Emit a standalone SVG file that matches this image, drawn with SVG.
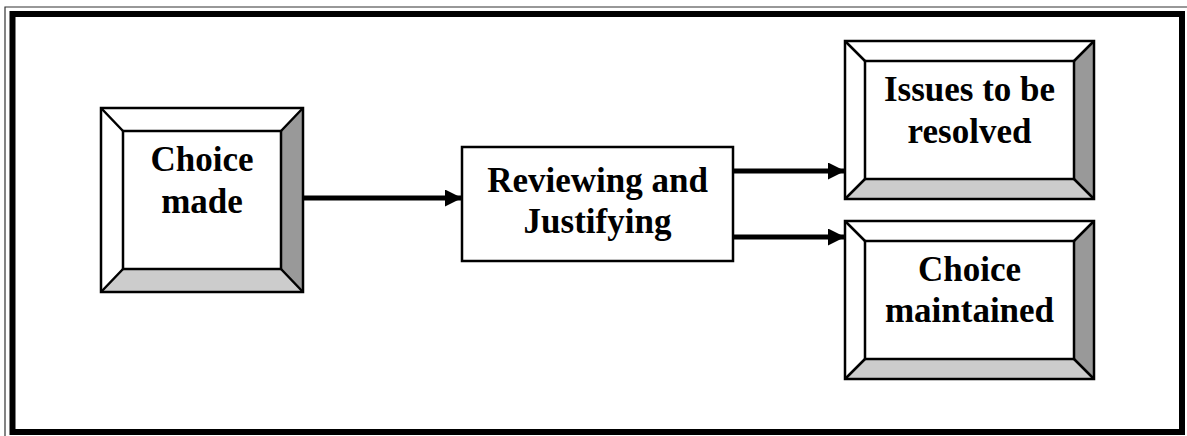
<svg xmlns="http://www.w3.org/2000/svg" width="1187" height="436" viewBox="0 0 1187 436">
<style>
.lbl{font-family:"Liberation Serif","Times New Roman",serif;font-weight:bold;font-size:35px;text-anchor:middle;fill:#000}
.edge{stroke:#000;stroke-width:2.5;stroke-linejoin:miter}
.face{fill:#fff}
.dark{fill:#999999}
.light{fill:#cccccc}
.conn{stroke:#000;stroke-width:5;fill:none}
</style>
<defs>
<marker id="ah" markerUnits="userSpaceOnUse" markerWidth="18" markerHeight="18" refX="17" refY="8.5" orient="auto">
<path d="M0,0 L17,8.5 L0,17 Z" fill="#000"/>
</marker>
</defs>
<rect x="0" y="0" width="1187" height="436" fill="#fff"/>
<g id="frame">
<path d="M5,436 V7 H1187" fill="none" stroke="#333" stroke-width="1.2"/>
<rect x="12.5" y="14" width="1169.5" height="418" fill="none" stroke="#000" stroke-width="6"/>
</g>
<g id="node-choice-made">
<rect x="101" y="108" width="202" height="184" class="face"/>
<polygon points="303,108 303,292 281,269 281,131" class="dark"/>
<polygon points="101,292 303,292 281,269 123,269" class="light"/>
<rect x="101" y="108" width="202" height="184" fill="none" class="edge"/>
<rect x="123" y="131" width="158" height="138" fill="none" class="edge"/>
<path d="M101,108 L123,131 M303,108 L281,131 M101,292 L123,269 M303,292 L281,269" class="edge"/>
<text class="lbl" x="202" y="171">Choice</text>
<text class="lbl" x="202" y="213">made</text>
</g>
<g id="node-reviewing">
<rect x="462" y="147" width="271" height="114" fill="#fff" class="edge"/>
<text class="lbl" x="597.5" y="192">Reviewing and</text>
<text class="lbl" x="597.5" y="233">Justifying</text>
</g>
<g id="node-issues">
<rect x="845" y="41" width="249" height="158" class="face"/>
<polygon points="1094,41 1094,199 1074,179 1074,61" class="dark"/>
<polygon points="845,199 1094,199 1074,179 865,179" class="light"/>
<rect x="845" y="41" width="249" height="158" fill="none" class="edge"/>
<rect x="865" y="61" width="209" height="118" fill="none" class="edge"/>
<path d="M845,41 L865,61 M1094,41 L1074,61 M845,199 L865,179 M1094,199 L1074,179" class="edge"/>
<text class="lbl" x="969.5" y="101">Issues to be</text>
<text class="lbl" x="969.5" y="143">resolved</text>
</g>
<g id="node-choice-maintained">
<rect x="845" y="221" width="249" height="158" class="face"/>
<polygon points="1094,221 1094,379 1074,359 1074,241" class="dark"/>
<polygon points="845,379 1094,379 1074,359 865,359" class="light"/>
<rect x="845" y="221" width="249" height="158" fill="none" class="edge"/>
<rect x="865" y="241" width="209" height="118" fill="none" class="edge"/>
<path d="M845,221 L865,241 M1094,221 L1074,241 M845,379 L865,359 M1094,379 L1074,359" class="edge"/>
<text class="lbl" x="969.5" y="281">Choice</text>
<text class="lbl" x="969.5" y="322">maintained</text>
</g>
<g id="connectors">
<line x1="304" y1="198" x2="462" y2="198" class="conn" marker-end="url(#ah)"/>
<line x1="734" y1="171" x2="845" y2="171" class="conn" marker-end="url(#ah)"/>
<line x1="734" y1="237" x2="845" y2="237" class="conn" marker-end="url(#ah)"/>
</g>
</svg>
